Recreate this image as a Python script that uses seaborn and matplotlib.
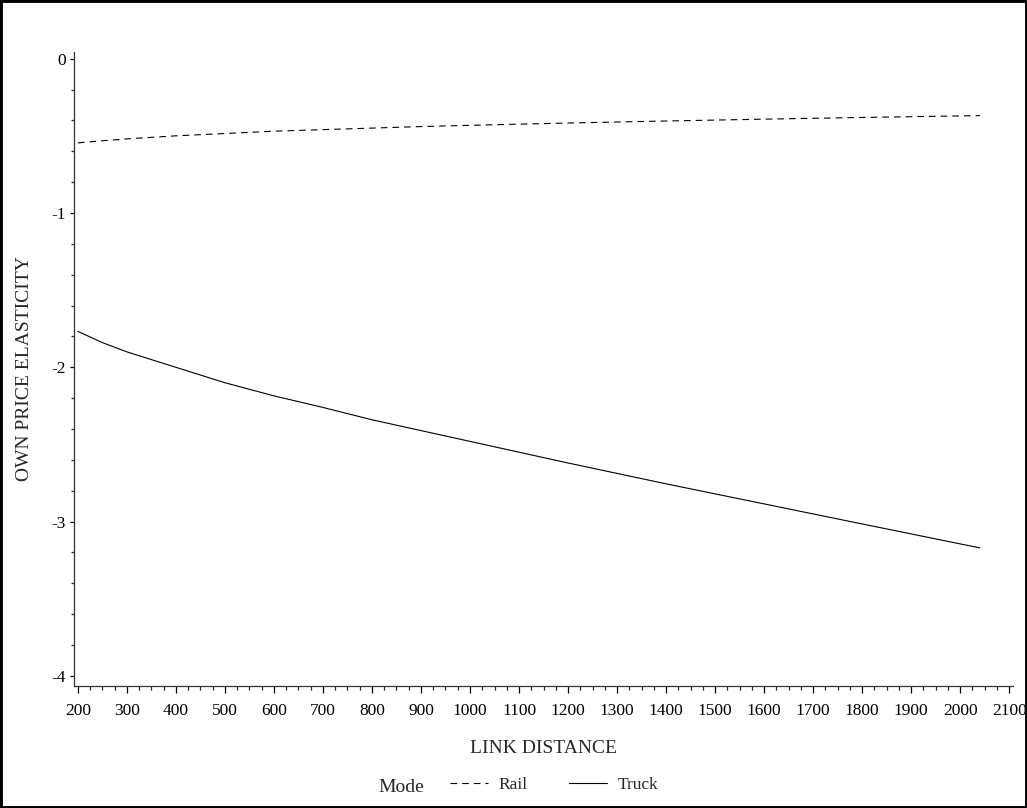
import numpy as np
import pandas as pd
import matplotlib
matplotlib.use("Agg")
import matplotlib.pyplot as plt
from matplotlib.patches import Rectangle
from matplotlib.ticker import MultipleLocator
import seaborn as sns

sns.set_theme(style="ticks")
plt.rcParams["font.family"] = ["Liberation Serif", "DejaVu Serif"]

# values
distance = [200, 250, 300, 400, 500, 600, 700, 800, 900, 1000, 1200, 1400, 1600, 1800, 2040]
rail = [-0.546, -0.532, -0.52, -0.50, -0.485, -0.47, -0.46, -0.45, -0.44, -0.432,
        -0.417, -0.404, -0.392, -0.381, -0.369]
truck = [-1.767, -1.84, -1.90, -2.00, -2.10, -2.185, -2.26, -2.34, -2.41, -2.48,
         -2.62, -2.755, -2.885, -3.015, -3.17]
modes = ["Rail", "Truck"]

df = pd.DataFrame({
    "LINK DISTANCE": distance * 2,
    "OWN PRICE ELASTICITY": rail + truck,
    "Mode": [modes[0]] * len(distance) + [modes[1]] * len(distance),
})

fig = plt.figure(figsize=(10.27, 8.08), dpi=100)
ax = fig.add_axes([0.072, 0.151, 0.914, 0.785])

sns.lineplot(data=df, x="LINK DISTANCE", y="OWN PRICE ELASTICITY",
             hue="Mode", style="Mode", palette=["black", "black"],
             dashes={"Rail": (6, 4.5), "Truck": ""}, linewidth=0.8,
             ax=ax, legend=False)

ax.set_xlim(192, 2107)
ax.set_ylim(-4.065, 0.045)
ax.xaxis.set_major_locator(MultipleLocator(100))
ax.xaxis.set_minor_locator(MultipleLocator(25))
ax.yaxis.set_major_locator(MultipleLocator(1))
ax.yaxis.set_minor_locator(MultipleLocator(0.2))
ax.set_yticklabels([f"{int(v)}" for v in ax.get_yticks()])

sns.despine(ax=ax)
for s in ["left", "bottom"]:
    ax.spines[s].set_linewidth(0.9)
    ax.spines[s].set_color("#333333")

ax.tick_params(axis="x", which="major", length=5, width=0.9, pad=7, labelsize=12.5, colors="black")
ax.tick_params(axis="x", which="minor", length=3, width=0.9)
ax.tick_params(axis="y", which="major", length=3, width=0.9, pad=3, labelsize=12.5, colors="black")
ax.tick_params(axis="y", which="minor", length=2, width=0.9)

ax.set_xlabel("LINK DISTANCE", fontsize=14)
ax.set_ylabel("OWN PRICE ELASTICITY", fontsize=14)
ax.xaxis.set_label_coords(0.5, -0.085)
ax.yaxis.set_label_coords(-0.0437, 0.5)

# legend along the bottom
handles = [plt.Line2D([], [], color="black", lw=0.8, dashes=(6, 4.5)),
           plt.Line2D([], [], color="black", lw=0.8)]
fig.legend(handles, modes, loc="center left", bbox_to_anchor=(455 / 1027 - 0.005, 1 - 785 / 808),
           ncol=2, frameon=False, fontsize=12.5, handlelength=2.2,
           handletextpad=0.6, columnspacing=2.4, borderpad=0, borderaxespad=0)
fig.text(378 / 1027, 1 - 788 / 808, "Mode", fontsize=14, ha="left", va="center")

fig.patches.append(Rectangle((0, 0), 1, 1, transform=fig.transFigure, fill=False,
                             lw=3.5, ec="black", zorder=10))

plt.savefig("out.png", dpi=100)
